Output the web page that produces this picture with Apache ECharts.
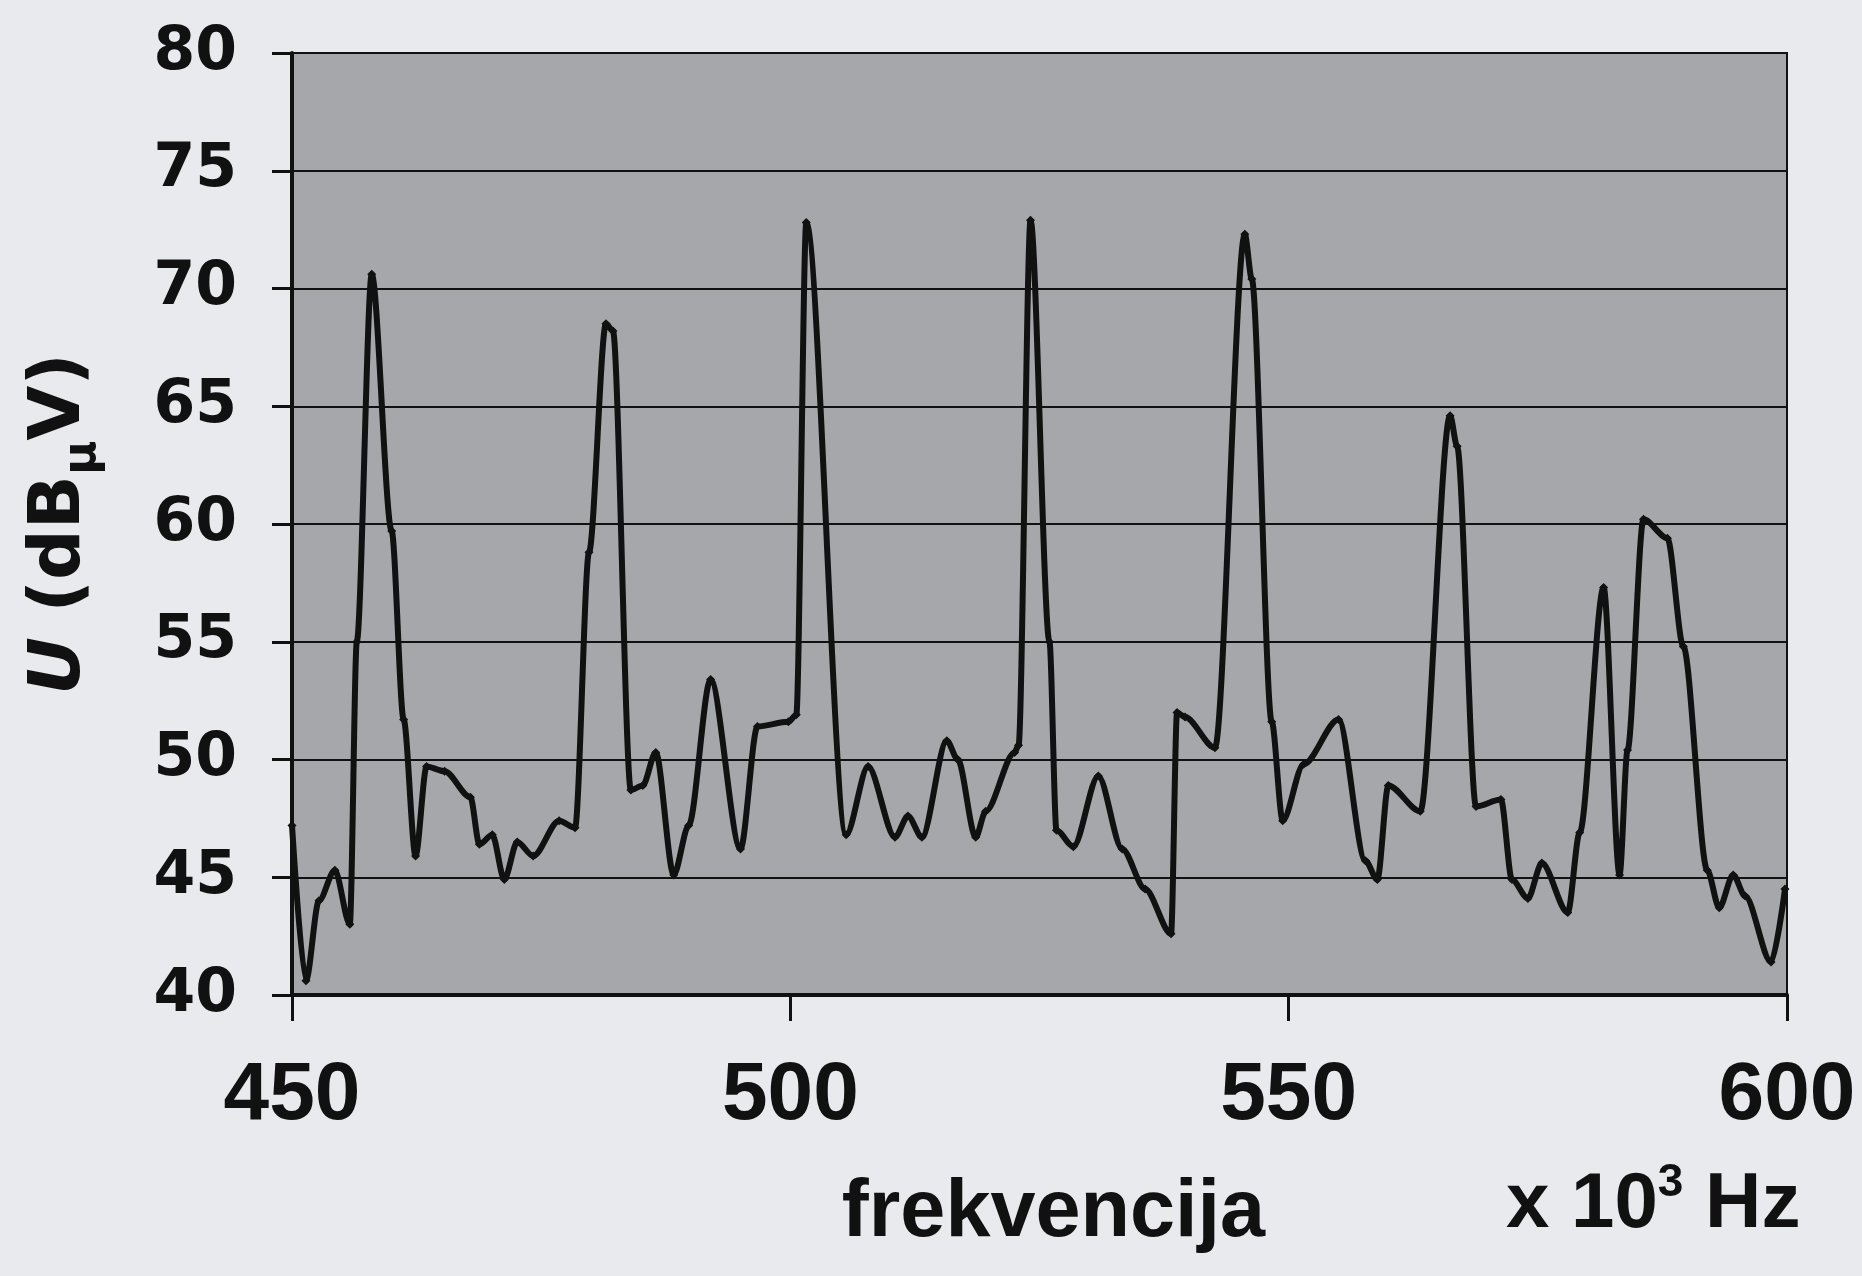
<!DOCTYPE html>
<html>
<head>
<meta charset="utf-8">
<script src="https://cdn.jsdelivr.net/npm/echarts@6/dist/echarts.min.js"></script>
<style>
html,body{margin:0;padding:0;background:#e8eaed;overflow:hidden;}
#chart{width:1862px;height:1276px;}
</style>
</head>
<body>
<div id="chart"></div>
<script>
// frequency in 10^3 Hz
const freq = [450.0, 451.4, 452.7, 454.3, 455.8, 456.5, 458.0, 460.0, 461.2, 462.4,
  463.5, 465.3, 467.9, 468.8, 470.1, 471.3, 472.6, 474.2, 476.8, 478.4,
  479.8, 481.5, 482.2, 484.0, 485.2, 486.5, 488.3, 489.8, 492.0, 495.0,
  496.7, 499.8, 500.6, 501.6, 505.6, 507.8, 510.5, 511.8, 513.2, 515.7,
  516.8, 518.6, 519.6, 522.5, 522.9, 524.1, 526.0, 526.7, 528.4, 530.9,
  533.3, 535.6, 538.2, 538.8, 539.6, 542.6, 545.6, 546.3, 548.3, 549.4,
  551.5, 555.0, 557.7, 558.9, 560.0, 563.2, 566.2, 566.9, 568.8, 571.3,
  572.4, 574.0, 575.4, 578.0, 579.2, 581.6, 583.2, 584.0, 585.6, 588.0,
  589.6, 592.0, 593.2, 594.6, 595.8, 598.4, 599.8];
// U in dBuV
const voltage = [47.2, 40.6, 44.0, 45.3, 43.0, 55.0, 70.6, 59.7, 51.7, 45.9,
  49.7, 49.5, 48.4, 46.4, 46.8, 44.9, 46.5, 45.9, 47.4, 47.1,
  58.8, 68.5, 68.2, 48.7, 48.9, 50.3, 45.1, 47.2, 53.4, 46.2,
  51.4, 51.6, 51.9, 72.8, 46.8, 49.7, 46.7, 47.6, 46.7, 50.8,
  50.0, 46.7, 47.8, 50.3, 50.6, 72.9, 55.0, 47.0, 46.3, 49.3,
  46.2, 44.5, 42.6, 52.0, 51.8, 50.5, 72.3, 70.4, 51.6, 47.4,
  49.8, 51.7, 45.7, 44.9, 48.9, 47.8, 64.6, 63.3, 48.0, 48.3,
  44.9, 44.1, 45.6, 43.5, 46.9, 57.3, 45.1, 50.4, 60.2, 59.4,
  54.8, 45.3, 43.7, 45.1, 44.2, 41.4, 44.5];
const xTicks = [450, 500, 550, 600];
const yTicks = [40, 45, 50, 55, 60, 65, 70, 75, 80];

const chart = echarts.init(document.getElementById('chart'), null, {renderer: 'canvas'});
const ink = '#111111';
const sans = "'Liberation Sans',Arial,sans-serif";
const wide = "'DejaVu Sans',sans-serif";
const option = {
  backgroundColor: '#e8eaed',
  animation: false,
  grid: {
    left: 292, right: 75, top: 53, bottom: 281,
    show: true, backgroundColor: '#a6a7aa', borderColor: ink, borderWidth: 2
  },
  xAxis: {
    type: 'value',
    min: xTicks[0], max: xTicks[xTicks.length - 1], interval: 50,
    name: 'frekvencija', nameLocation: 'middle', nameGap: 178,
    nameTextStyle: {fontFamily: sans, fontWeight: 'bold', fontSize: 81, color: ink, padding: [0, 0, 0, 28]},
    axisLine: {show: true, onZero: false, lineStyle: {color: ink, width: 4}},
    axisTick: {show: true, inside: false, length: 26, lineStyle: {color: ink, width: 3}},
    axisLabel: {margin: 60, fontFamily: sans, fontWeight: 'bold', fontSize: 82, color: ink},
    splitLine: {show: false}
  },
  yAxis: {
    type: 'value',
    min: yTicks[0], max: yTicks[yTicks.length - 1], interval: 5,
    name: '{i|U} (dB{s|μ}V)', nameLocation: 'middle', nameRotate: 90, nameGap: 186,
    nameTextStyle: {
      fontFamily: wide, fontWeight: 'bold', fontSize: 71, color: ink,
      rich: {
        i: {fontFamily: wide, fontWeight: 'bold', fontStyle: 'italic', fontSize: 71, color: ink},
        s: {fontFamily: wide, fontWeight: 'bold', fontSize: 47, color: ink, padding: [44, 0, 0, 0]}
      }
    },
    axisLine: {show: true, lineStyle: {color: ink, width: 4}},
    axisTick: {show: true, inside: false, length: 20, lineStyle: {color: ink, width: 3}},
    axisLabel: {margin: 55, fontFamily: wide, fontWeight: 'bold', fontSize: 60, color: ink},
    splitLine: {show: true, lineStyle: {color: ink, width: 2}}
  },
  graphic: [{
    type: 'text', left: 1506, top: 1160,
    style: {
      rich: {
        n: {fontFamily: sans, fontWeight: 'bold', fontSize: 78, fill: ink},
        p: {fontFamily: sans, fontWeight: 'bold', fontSize: 46, fill: ink, padding: [0, 0, 44, 0]}
      },
      text: '{n|x 10}{p|3}{n| Hz}'
    }
  }],
  series: [{
    type: 'line',
    data: freq.map((f, i) => [f, voltage[i]]),
    smooth: 0.3, smoothMonotone: 'x',
    symbol: 'diamond', symbolSize: 9, showSymbol: true,
    itemStyle: {color: ink},
    lineStyle: {color: ink, width: 6},
    clip: true
  }]
};
chart.setOption(option);
</script>
</body>
</html>
